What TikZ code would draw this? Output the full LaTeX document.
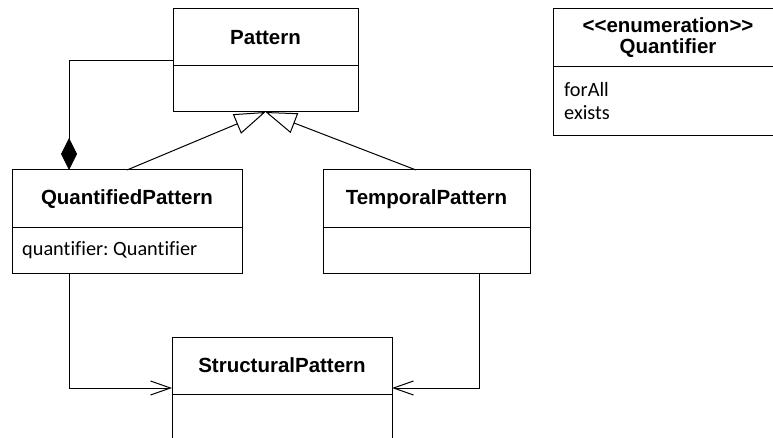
\documentclass[tikz,border=0pt]{standalone}
\usepackage{fontspec}
\setmainfont{Liberation Sans}
\newfontfamily\attrfont[Ligatures=NoCommon]{Carlito}
\usetikzlibrary{arrows.meta}
\frenchspacing
\begin{document}
\begin{tikzpicture}[x=1pt,y=-1pt,
  box/.style={draw=black, line width=1pt, rectangle, inner sep=0pt, outer sep=0pt},
  head/.style={box, font=\fontsize{20.5}{21}\selectfont\bfseries, align=center},
  attr/.style={inner sep=0pt, anchor=base west, font=\attrfont\fontsize{20.3}{24}\selectfont},
  assoc/.style={line width=1pt, -{Straight Barb[length=20pt,width=14pt]}},
  gen/.style={line width=1pt, -{Triangle[open,length=31pt,width=21pt]}},
  comp/.style={line width=1pt, -{Diamond[length=32pt,width=16pt]}},
]
\useasboundingbox (0,0) rectangle (773,438);
\clip (0,0) rectangle (773,438);

% classes: header compartment + body compartment
\node[head, minimum width=185pt, minimum height=57pt] (pat) at (265.5,37.5) {Pattern};
\node[box, minimum width=185pt, minimum height=46pt, anchor=north] (patbody) at (pat.south) {};

\node[head, minimum width=230pt, minimum height=58pt] (qp) at (127,199) {QuantifiedPattern};
\node[box, minimum width=230pt, minimum height=45pt, anchor=north] (qpbody) at (qp.south) {};
\node[attr] (qattr) at (22,255) {quantifier: Quantifier};

\node[head, minimum width=207pt, minimum height=58pt] (tp) at (426.5,199) {TemporalPattern};
\node[box, minimum width=207pt, minimum height=45pt, anchor=north] (tpbody) at (tp.south) {};

\node[head, minimum width=220pt, minimum height=57pt] (sp) at (282,365.5) {StructuralPattern};
\node[box, minimum width=220pt, minimum height=60pt, anchor=north] (spbody) at (sp.south) {};

\node[head, minimum width=230pt, minimum height=58pt] (enum) at (668,38) {<{}<enumeration>{}>\\Quantifier};
\node[box, minimum width=230pt, minimum height=69pt, anchor=north] (enumbody) at (enum.south) {};
\node[attr] (lit1) at (564,96.7) {forAll};
\node[attr] (lit2) at (564,119.3) {exists};

% relations
\draw[comp] ([yshift=5pt]pat.south west) -| ([xshift=57pt]qp.north west);
\draw[gen] (qp.north) -- (patbody.south);
\draw[gen] ([xshift=-10.5pt]tp.north) -- (patbody.south);
\draw[assoc] ([xshift=57pt]qpbody.south west) |- ([yshift=6pt]sp.south west);
\draw[assoc] ([xshift=52.5pt]tpbody.south) |- ([yshift=6pt]sp.south east);
\end{tikzpicture}
\end{document}
